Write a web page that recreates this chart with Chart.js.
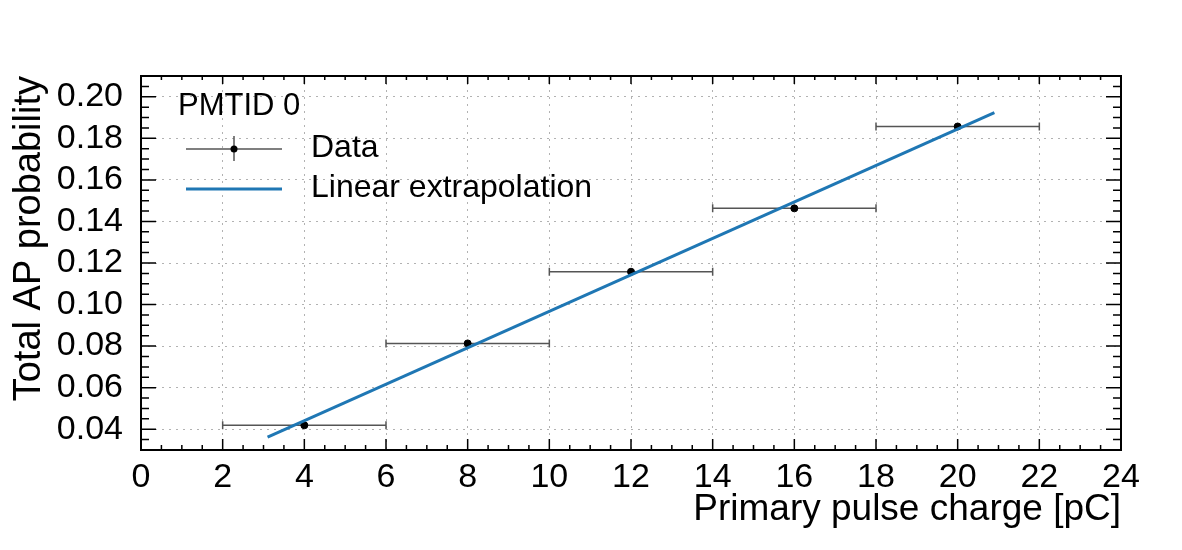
<!DOCTYPE html>
<html>
<head>
<meta charset="utf-8">
<script src="https://cdn.jsdelivr.net/npm/chart.js@4/dist/chart.umd.min.js"></script>
<style>
  html, body { margin: 0; padding: 0; background: #fff; }
  #box { width: 1182px; height: 550px; }
</style>
</head>
<body>
<div id="box"><canvas id="myChart"></canvas></div>
<script>
// data
let charge = [4, 8, 12, 16, 20]
let chargeErr = [2, 2, 2, 2, 2]
let apProb = [0.0419, 0.0813, 0.1158, 0.1463, 0.1857]
let fitX = [3.1, 20.9]
let fitY = [0.0362, 0.1924]

let xTicks = [0, 2, 4, 6, 8, 10, 12, 14, 16, 18, 20, 22, 24]
let yTicks = [0.04, 0.06, 0.08, 0.10, 0.12, 0.14, 0.16, 0.18, 0.20]

let legendHeader = "PMTID 0"
let dataLabel = "Data"
let fitLabel = "Linear extrapolation"

let fontName = "'Liberation Sans', Arial, sans-serif"
let blue = "#1f77b4"

// inward ticks, frame, error bars and legend (ROOT look)
let rootStyle = {
  id: "rootStyle",
  beforeDatasetsDraw(chart) {
    let ctx = chart.ctx
    let xs = chart.scales.x, ys = chart.scales.y
    ctx.save()
    ctx.strokeStyle = "#555"
    ctx.lineWidth = 1.5
    for (let i = 0; i < charge.length; i++) {
      let y = ys.getPixelForValue(apProb[i])
      let x1 = xs.getPixelForValue(charge[i] - chargeErr[i])
      let x2 = xs.getPixelForValue(charge[i] + chargeErr[i])
      ctx.beginPath()
      ctx.moveTo(x1, y); ctx.lineTo(x2, y)
      ctx.moveTo(x1, y - 4); ctx.lineTo(x1, y + 4)
      ctx.moveTo(x2, y - 4); ctx.lineTo(x2, y + 4)
      ctx.stroke()
    }
    ctx.restore()
  },
  afterDraw(chart) {
    let ctx = chart.ctx
    let a = chart.chartArea
    let xs = chart.scales.x, ys = chart.scales.y
    ctx.save()
    ctx.strokeStyle = "#000"
    ctx.lineWidth = 1.5
    ctx.beginPath()
    // x ticks, major every 2, minor every 0.5
    for (let v = 0; v <= 24.001; v += 0.5) {
      let x = xs.getPixelForValue(v)
      let major = Math.abs(v / 2 - Math.round(v / 2)) < 1e-6
      let lb = major ? 11 : 5
      let lt = major ? 8 : 4
      ctx.moveTo(x, a.bottom); ctx.lineTo(x, a.bottom - lb)
      ctx.moveTo(x, a.top); ctx.lineTo(x, a.top + lt)
    }
    // y ticks, major every 0.02, minor every 0.005
    for (let k = 0; k <= 36; k++) {
      let v = 0.03 + k * 0.005
      let y = ys.getPixelForValue(v)
      let major = k % 4 == 2
      let l = major ? 15 : 8
      ctx.moveTo(a.left, y); ctx.lineTo(a.left + l, y)
      ctx.moveTo(a.right, y); ctx.lineTo(a.right - l, y)
    }
    ctx.stroke()
    ctx.lineWidth = 2
    ctx.strokeRect(a.left, a.top, a.right - a.left, a.bottom - a.top)

    // legend
    ctx.fillStyle = "#000"
    ctx.font = "31px " + fontName
    ctx.textBaseline = "middle"
    ctx.textAlign = "left"
    ctx.fillText(legendHeader, 178, 106)
    ctx.font = "32px " + fontName
    ctx.fillText(dataLabel, 311, 148)
    ctx.fillText(fitLabel, 311, 188)
    ctx.strokeStyle = "#555"
    ctx.lineWidth = 1.5
    ctx.beginPath()
    ctx.moveTo(186, 149); ctx.lineTo(282, 149)
    ctx.moveTo(234, 136); ctx.lineTo(234, 161)
    ctx.stroke()
    ctx.fillStyle = "#000"
    ctx.beginPath()
    ctx.arc(234, 149, 3.5, 0, Math.PI * 2)
    ctx.fill()
    ctx.strokeStyle = blue
    ctx.lineWidth = 3
    ctx.beginPath()
    ctx.moveTo(186, 189); ctx.lineTo(282, 189)
    ctx.stroke()
    ctx.restore()
  }
}

let gridStyle = {
  color: "rgba(0,0,0,0.3)",
  lineWidth: 1,
  drawTicks: false
}

let config = {
  type: "scatter",
  data: {
    datasets: [
      {
        label: dataLabel,
        data: charge.map((c, i) => ({ x: c, y: apProb[i] })),
        backgroundColor: "#000",
        borderColor: "#000",
        pointRadius: 3.5,
        order: 2
      },
      {
        label: fitLabel,
        type: "line",
        data: fitX.map((c, i) => ({ x: c, y: fitY[i] })),
        borderColor: blue,
        borderWidth: 3,
        pointRadius: 0,
        fill: false,
        order: 1
      }
    ]
  },
  options: {
    responsive: false,
    animation: false,
    devicePixelRatio: 1,
    layout: { padding: { top: 76, right: 61, left: 0, bottom: 0 } },
    plugins: { legend: { display: false }, tooltip: { enabled: false } },
    scales: {
      x: {
        type: "linear",
        min: 0, max: 24,
        afterFit: s => { s.height = 100 },
        afterBuildTicks: s => { s.ticks = xTicks.map(v => ({ value: v })) },
        grid: Object.assign({}, gridStyle),
        border: { display: false, dash: [2, 5] },   // dotted grid
        ticks: {
          color: "#000",
          font: { family: fontName, size: 34 },
          padding: 7,
          maxRotation: 0,
          autoSkip: false,
          callback: v => String(v)
        },
        title: {
          display: true,
          text: "Primary pulse charge [pC]",
          align: "end",
          color: "#000",
          font: { family: fontName, size: 37 },
          padding: { top: 0, bottom: 18 }
        }
      },
      y: {
        type: "linear",
        min: 0.03, max: 0.21,
        afterFit: s => { s.width = 141 },
        afterBuildTicks: s => { s.ticks = yTicks.map(v => ({ value: v })) },
        grid: Object.assign({}, gridStyle),
        border: { display: false, dash: [2, 5] },
        ticks: {
          color: "#000",
          font: { family: fontName, size: 34 },
          padding: 18,
          autoSkip: false,
          callback: v => v.toFixed(2)
        },
        title: {
          display: true,
          text: "Total AP probability",
          align: "end",
          color: "#000",
          font: { family: fontName, size: 38 },
          padding: { top: 7, bottom: 0 }
        }
      }
    }
  },
  plugins: [rootStyle]
}

let canvas = document.getElementById("myChart")
canvas.width = 1182
canvas.height = 550
let myChart = new Chart(canvas, config)
</script>
</body>
</html>
